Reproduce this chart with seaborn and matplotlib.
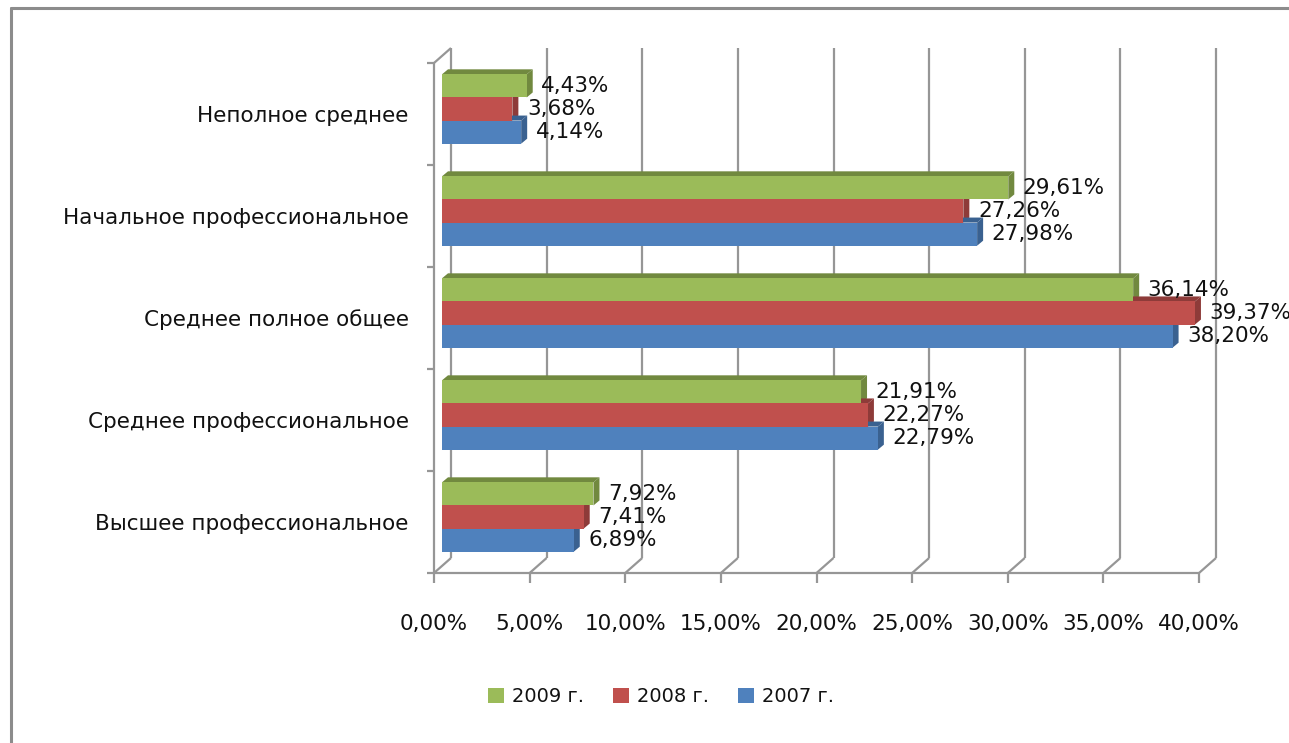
import pandas as pd
import seaborn as sns
from matplotlib import pyplot as plt
from matplotlib.lines import Line2D
from matplotlib.patches import Polygon
from matplotlib.transforms import IdentityTransform, ScaledTranslation

# === DATA ===

categories = ['Неполное среднее', 'Начальное профессиональное',
              'Среднее полное общее', 'Среднее профессиональное',
              'Высшее профессиональное']
years = ['2009 г.', '2008 г.', '2007 г.']
share_2009 = [4.43, 29.61, 36.14, 21.91, 7.92]
share_2008 = [3.68, 27.26, 39.37, 22.27, 7.41]
share_2007 = [4.14, 27.98, 38.20, 22.79, 6.89]
x_ticks = [0, 5, 10, 15, 20, 25, 30, 35, 40]
x_tick_labels = ['0,00%', '5,00%', '10,00%', '15,00%', '20,00%',
                 '25,00%', '30,00%', '35,00%', '40,00%']

colors = {'2009 г.': '#9BBB59', '2008 г.': '#C0504D', '2007 г.': '#4F81BD'}
dark = {'2009 г.': '#71893F', '2008 г.': '#8E3B39', '2007 г.': '#3A6190'}
GRID = '#969696'
TEXT = '#111111'

# pixel offsets (display coords, y up) of the chart's front / back walls
FRONT = (-8, -5)
BACK = (9, 10)
DEPTH = (6, 5)

df = pd.DataFrame({
    'category': categories * 3,
    'year': [years[0]] * 5 + [years[1]] * 5 + [years[2]] * 5,
    'share': share_2009 + share_2008 + share_2007,
})

# === PLOT ===

sns.set_theme(style='white')
plt.rcParams['font.family'] = ['DejaVu Sans']

W, H = 1289, 743
fig = plt.figure(figsize=(W / 100, H / 100), dpi=100)
ax = fig.add_axes([442 / W, 1 - 568 / H, 765 / W, 510 / H])

sns.barplot(data=df, y='category', x='share', hue='year',
            hue_order=years, order=categories, palette=colors,
            orient='h', width=0.68, gap=0, saturation=1,
            edgecolor='none', linewidth=0, ax=ax, zorder=1)

ax.set_xlim(0, 40)
ax.set_ylim(4.5, -0.5)
for side in ax.spines.values():
    side.set_visible(False)
ax.set_xlabel('')
ax.set_ylabel('')
ax.grid(False)

ax.set_xticks(x_ticks)
ax.set_xticklabels(x_tick_labels, fontsize=15.5, color=TEXT)
ax.tick_params(axis='x', length=0, pad=33)
ax.set_yticks(range(len(categories)))
ax.set_yticklabels(categories, fontsize=15.5, color=TEXT)
ax.tick_params(axis='y', length=0, pad=24)

for lab in ax.get_xticklabels():
    lab.set_transform(lab.get_transform()
                      + ScaledTranslation(FRONT[0] / 100, 0, fig.dpi_scale_trans))
for lab in ax.get_yticklabels():
    lab.set_transform(lab.get_transform()
                      + ScaledTranslation(0, FRONT[1] / 100, fig.dpi_scale_trans))


def px(xd, ya, off):
    x = ax.transData.transform((xd, 0))[0] + off[0]
    y = ax.transAxes.transform((0, ya))[1] + off[1]
    return x, y


def line(p0, p1, z=0.5):
    ax.add_line(Line2D([p0[0], p1[0]], [p0[1], p1[1]], color=GRID, lw=1.6,
                       transform=IdentityTransform(), clip_on=False, zorder=z,
                       solid_capstyle='butt'))


# back wall gridlines and floor diagonals
for t in x_ticks:
    line(px(t, 1, BACK), px(t, 0, BACK))
    line(px(t, 0, BACK), px(t, 0, FRONT))
    # front tick marks
    x0, y0 = px(t, 0, FRONT)
    line((x0, y0), (x0, y0 - 10))

# front floor edge and left wall
line(px(0, 0, FRONT), px(40, 0, FRONT))
line(px(0, 1, FRONT), px(0, 0, FRONT))
line(px(0, 1, FRONT), px(0, 1, BACK))
for k in range(len(categories) + 1):
    x0, y0 = px(0, k / len(categories), FRONT)
    line((x0 - 7, y0), (x0, y0))

# 3d depth of bars: top and side faces
for cont, yr in zip(ax.containers, years):
    for bar in cont:
        (xa, yb), (xb, yt) = ax.transData.transform(
            [(bar.get_x(), bar.get_y() + bar.get_height()),
             (bar.get_x() + bar.get_width(), bar.get_y())])
        top = [(xa, yt), (xb, yt), (xb + DEPTH[0], yt + DEPTH[1]),
               (xa + DEPTH[0], yt + DEPTH[1])]
        side = [(xb, yt), (xb, yb), (xb + DEPTH[0], yb + DEPTH[1]),
                (xb + DEPTH[0], yt + DEPTH[1])]
        for verts in (top, side):
            ax.add_patch(Polygon(verts, closed=True, facecolor=dark[yr],
                                 edgecolor='none', transform=IdentityTransform(),
                                 clip_on=False, zorder=0.8))
    ax.bar_label(cont, fmt=lambda v: f'{v:.2f}%'.replace('.', ','),
                 padding=10.5, fontsize=15.5, color=TEXT, zorder=3)

sns.move_legend(ax, 'center', bbox_to_anchor=(661 / W, 1 - 697 / H),
                bbox_transform=fig.transFigure, ncol=3, frameon=False,
                title=None, fontsize=14, handlelength=0.82, handleheight=0.82,
                handletextpad=0.4, columnspacing=1.5)
for txt in ax.get_legend().get_texts():
    txt.set_color(TEXT)

# outer chart frame
fig.add_artist(Line2D([11, 11], [-5, H - 8], color='#8c8c8c', lw=2.2,
                      transform=IdentityTransform()))
fig.add_artist(Line2D([11, W + 5], [H - 8, H - 8], color='#8c8c8c', lw=2.2,
                      transform=IdentityTransform()))

plt.savefig('out.png', dpi=100, facecolor='white')
